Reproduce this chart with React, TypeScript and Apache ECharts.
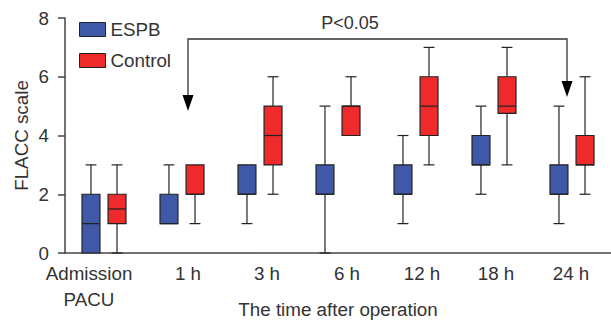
import React, { useEffect, useRef } from "react";
import * as echarts from "echarts";

const categories = ["Admission\nPACU", "1 h", "3 h", "6 h", "12 h", "18 h", "24 h"];
const yTicks = [0, 2, 4, 6, 8];
// [min, Q1, median, Q3, max]
const espb = [
  [0, 0, 1, 2, 3],
  [1, 1, 1, 2, 3],
  [1, 2, 2, 3, 3],
  [0, 2, 2, 3, 5],
  [1, 2, 2, 3, 4],
  [2, 3, 3, 4, 5],
  [1, 2, 2, 3, 5],
];
const control = [
  [0, 1, 1.5, 2, 3],
  [1, 2, 2, 3, 3],
  [2, 3, 4, 5, 6],
  [4, 4, 5, 5, 6],
  [3, 4, 5, 6, 7],
  [3, 4.75, 5, 6, 7],
  [2, 3, 3, 4, 6],
];
const seriesNames = ["ESPB", "Control"];
const pText = "P<0.05";

// horizontal nudges of the category labels (px), as in the reference layout
const LABEL_SHIFT = [-15, 6, 7, 9, 6, 2, -1];

const FONT = "'Liberation Sans', Arial, Helvetica, sans-serif";
const FS = 18.8;
const TXT = "#333";
const BLUE = "#4058A8";
const RED = "#EE2A2A";
const EDGE = "#222";

function makeRender(offsetFrac: number, color: string) {
  return (params: any, api: any) => {
    const c = api.value(0);
    const vals = [1, 2, 3, 4, 5].map((i) => api.value(i));
    const pts = vals.map((v) => api.coord([c, v]));
    const band = api.size([1, 0])[0];
    const cx = pts[0][0] + band * offsetFrac;
    const [yMin, yQ1, yMed, yQ3, yMax] = pts.map((p: number[]) => p[1]);
    const hw = band * 0.115;
    const cap = band * 0.07;
    const ls = { stroke: EDGE, lineWidth: 1.2 };
    const children: any[] = [];
    if (vals[0] < vals[1]) {
      children.push({ type: "line", shape: { x1: cx, y1: yQ1, x2: cx, y2: yMin }, style: ls });
      children.push({ type: "line", shape: { x1: cx - cap, y1: yMin, x2: cx + cap, y2: yMin }, style: ls });
    }
    if (vals[4] > vals[3]) {
      children.push({ type: "line", shape: { x1: cx, y1: yQ3, x2: cx, y2: yMax }, style: ls });
      children.push({ type: "line", shape: { x1: cx - cap, y1: yMax, x2: cx + cap, y2: yMax }, style: ls });
    }
    children.push({
      type: "rect",
      shape: { x: cx - hw, y: yQ3, width: hw * 2, height: yQ1 - yQ3 },
      style: { fill: color, stroke: EDGE, lineWidth: 1.2 },
    });
    children.push({ type: "line", shape: { x1: cx - hw, y1: yMed, x2: cx + hw, y2: yMed }, style: ls });
    return { type: "group", children };
  };
}

export default function App() {
  const ref = useRef<HTMLDivElement>(null);
  useEffect(() => {
    if (!ref.current) return;
    const chart = echarts.init(ref.current, null, { renderer: "svg" });
    const toData = (arr: number[][]) => arr.map((r, i) => [i, ...r]);
    const catData = categories.map((c, i) => {
      const s = LABEL_SHIFT[i];
      return {
        value: c,
        textStyle: { padding: s >= 0 ? [0, 0, 0, 2 * s] : [0, -2 * s, 0, 0] },
      };
    });
    chart.setOption({
      animation: false,
      textStyle: { fontFamily: FONT },
      grid: { left: 65, right: 0, top: 18, bottom: 69, containLabel: false, outerBoundsMode: "none" },
      legend: {
        data: seriesNames,
        orient: "vertical",
        left: 74,
        top: 15,
        icon: "rect",
        itemWidth: 26,
        itemHeight: 14,
        itemGap: 12,
        itemStyle: { borderColor: EDGE, borderWidth: 1 },
        textStyle: { fontSize: FS, color: TXT, fontFamily: FONT },
      },
      xAxis: {
        type: "category",
        data: catData,
        boundaryGap: true,
        axisLine: { lineStyle: { color: "#444", width: 1.5 } },
        axisTick: { show: false },
        axisLabel: { fontSize: FS, color: TXT, margin: 7, lineHeight: 26, interval: 0, fontFamily: FONT },
        name: "The time after operation",
        nameLocation: "middle",
        nameGap: 47,
        nameMoveOverlap: false,
        nameTextStyle: { fontSize: FS, color: TXT, fontFamily: FONT },
      },
      yAxis: {
        type: "value",
        min: yTicks[0],
        max: yTicks[yTicks.length - 1],
        interval: 2,
        splitLine: { show: false },
        axisLine: { show: true, lineStyle: { color: "#444", width: 1.5 } },
        axisTick: { show: true, length: 7, lineStyle: { color: "#444", width: 1.5 } },
        axisLabel: { fontSize: FS, color: TXT, margin: 16, fontFamily: FONT },
        name: "FLACC scale",
        nameLocation: "middle",
        nameGap: 34,
        nameMoveOverlap: false,
        nameTextStyle: { fontSize: FS, color: TXT, fontFamily: FONT },
      },
      series: [
        {
          name: seriesNames[0],
          type: "custom",
          renderItem: makeRender(-0.167, BLUE),
          itemStyle: { color: BLUE, borderColor: EDGE, borderWidth: 1 },
          encode: { x: 0, y: [1, 2, 3, 4, 5] },
          data: toData(espb),
          clip: false,
        },
        {
          name: seriesNames[1],
          type: "custom",
          renderItem: makeRender(0.167, RED),
          itemStyle: { color: RED, borderColor: EDGE, borderWidth: 1 },
          encode: { x: 0, y: [1, 2, 3, 4, 5] },
          data: toData(control),
          clip: false,
        },
      ],
      graphic: [
        {
          type: "polyline",
          shape: { points: [[188, 96], [188, 39], [567, 39], [567, 82]] },
          style: { stroke: "#333", lineWidth: 1.3, fill: null },
        },
        {
          type: "polygon",
          shape: { points: [[182.5, 95], [193.5, 95], [188, 111]] },
          style: { fill: "#000" },
        },
        {
          type: "polygon",
          shape: { points: [[561.5, 81], [572.5, 81], [567, 97]] },
          style: { fill: "#000" },
        },
        {
          type: "text",
          x: 350,
          y: 23,
          style: { text: pText, font: `18px ${FONT}`, fill: TXT, textAlign: "center", textVerticalAlign: "middle" },
        },
      ],
    });
    return () => chart.dispose();
  }, []);
  return <div ref={ref} style={{ position: "absolute", left: 0, top: 0, width: 611, height: 322 }} />;
}
